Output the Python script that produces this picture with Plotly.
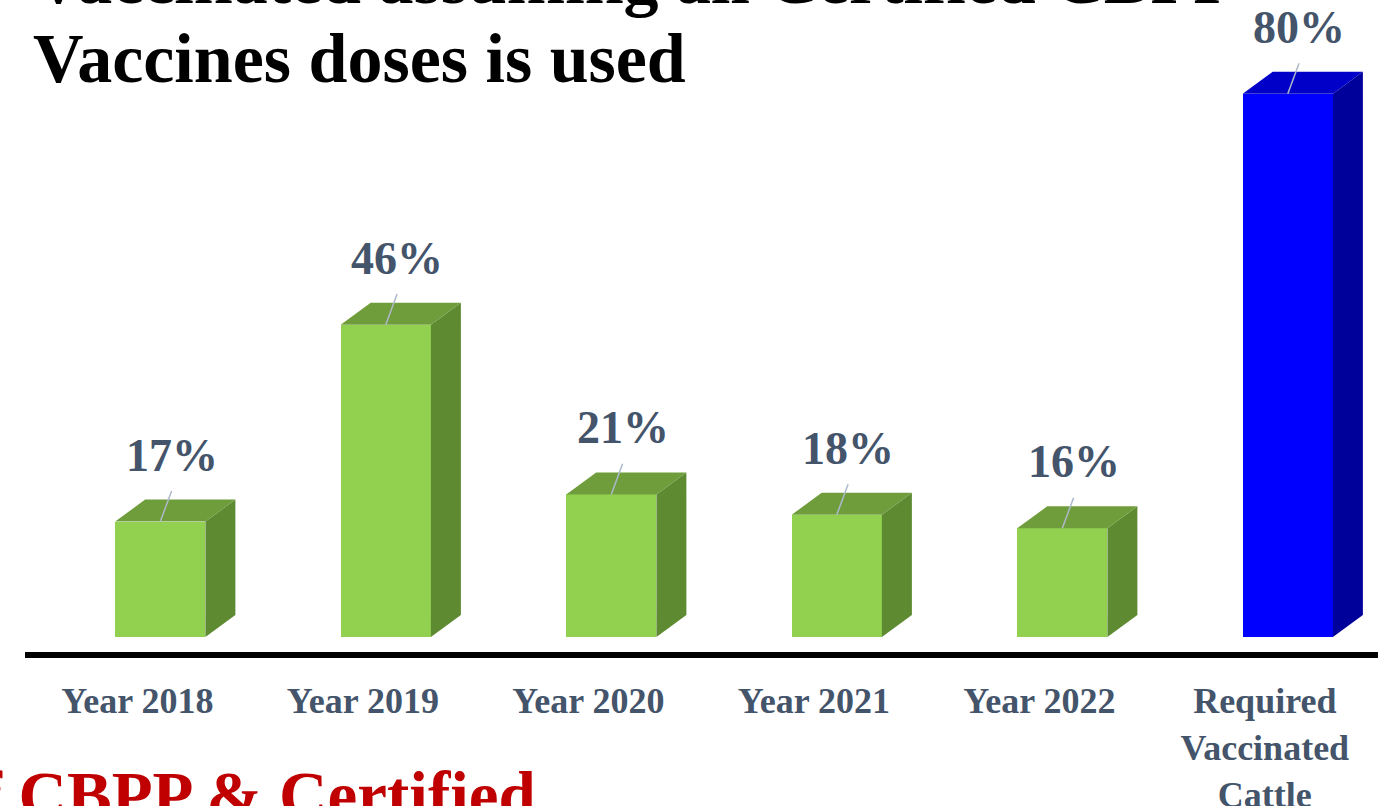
import plotly.graph_objects as go

# Share of cattle vaccinated per year vs. the required coverage
categories = ["Year 2018", "Year 2019", "Year 2020", "Year 2021", "Year 2022",
              "Required<br>Vaccinated<br>Cattle"]
coverage = [17, 46, 21, 18, 16, 80]
value_labels = ["17%", "46%", "21%", "18%", "16%", "80%"]

front_colors = ["#92D050"] * 5 + ["#0000FF"]
top_colors = ["#6F9D3B"] * 5 + ["#0000C8"]
side_colors = ["#5E8A31"] * 5 + ["#00009A"]

SERIF = "Liberation Serif"
LABEL_COLOR = "#44546A"

BAR_W = 0.4      # front face width (x units)
DEPTH_X = 0.133  # 3D depth offset in x units
DEPTH_Y = 3.24   # 3D depth offset in y units
TICK_SHIFT = 0.102  # category labels sit slightly left of the bar centres

xs = list(range(len(categories)))
fig = go.Figure()

# front faces
fig.add_trace(go.Bar(
    x=xs, y=coverage, width=BAR_W,
    marker=dict(color=front_colors, line=dict(width=0)),
    hoverinfo="skip", showlegend=False,
))

# side and top faces of each bar, built from the bar value
for x, v, tc, sc in zip(xs, coverage, top_colors, side_colors):
    r = x + BAR_W / 2
    l = x - BAR_W / 2
    fig.add_trace(go.Scatter(
        x=[r, r + DEPTH_X, r + DEPTH_X, r, r],
        y=[0, DEPTH_Y, v + DEPTH_Y, v, 0],
        fill="toself", fillcolor=sc, mode="lines", line=dict(width=0),
        hoverinfo="skip", showlegend=False,
    ))
    fig.add_trace(go.Scatter(
        x=[l, r, r + DEPTH_X, l + DEPTH_X, l],
        y=[v, v, v + DEPTH_Y, v + DEPTH_Y, v],
        fill="toself", fillcolor=tc, mode="lines", line=dict(width=0),
        hoverinfo="skip", showlegend=False,
    ))
    # leader line from the bar top to its value label
    fig.add_trace(go.Scatter(
        x=[x, x + 0.05], y=[v, v + 4.5], mode="lines",
        line=dict(color="#ADB9CA", width=1.5),
        hoverinfo="skip", showlegend=False,
    ))

for x, v, t in zip(xs, coverage, value_labels):
    fig.add_annotation(
        x=x + 0.05, y=v + 9.8, text=f"<b>{t}</b>", showarrow=False,
        xanchor="center", yanchor="middle",
        font=dict(family=SERIF, size=46, color=LABEL_COLOR),
    )

# title lines
fig.add_annotation(
    xref="paper", yref="paper", x=0, xshift=6, y=1.0, yshift=61,
    text="<b>Vaccinated assuming all Certified CBPP</b>", showarrow=False,
    xanchor="left", yanchor="top",
    font=dict(family=SERIF, size=70, color="#000000"),
)
fig.add_annotation(
    xref="paper", yref="paper", x=0, xshift=6, y=1.0, yshift=-18,
    text="<b>Vaccines doses is used</b>", showarrow=False,
    xanchor="left", yanchor="top",
    font=dict(family=SERIF, size=70, color="#000000"),
)
# footer text
fig.add_annotation(
    xref="paper", yref="paper", x=-0.06, y=0, yshift=-104,
    text="<b>of CBPP &amp; Certified</b>", showarrow=False,
    xanchor="left", yanchor="top",
    font=dict(family=SERIF, size=67, color="#C00000"),
)

fig.update_layout(
    width=1389, height=806,
    margin=dict(l=25, r=11, t=0, b=154),
    paper_bgcolor="white", plot_bgcolor="white",
    xaxis=dict(
        range=[-0.6, 5.4],
        tickvals=[x - TICK_SHIFT for x in xs],
        ticktext=[f"<b>{c}</b>" for c in categories],
        tickfont=dict(family=SERIF, size=36, color=LABEL_COLOR),
        showline=True, linewidth=6, linecolor="#000000",
        showgrid=False, zeroline=False, ticks="", ticklabelstandoff=12,
        automargin=False,
    ),
    yaxis=dict(
        range=[-2.21, 93.81], visible=False, showgrid=False, zeroline=False,
        automargin=False,
    ),
    bargap=0,
)

fig.write_html("out.html")
